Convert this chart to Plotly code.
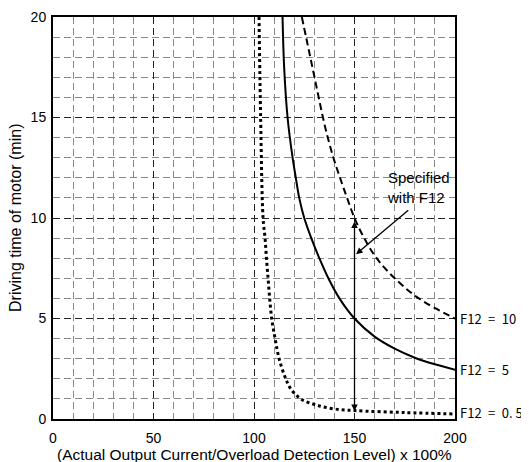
import plotly.graph_objects as go

# curve readings (x = % of overload level, y = minutes)
x_f05 = [102.5, 103.3, 104.5, 105.5, 106.2, 107, 107.8, 108.8, 110.5, 112.5, 115.8, 118.3, 123.3, 130.8, 140, 150, 175, 200]
y_f05 = [20, 15, 10, 9, 8, 7, 6, 5, 4, 3, 2, 1.5, 1, 0.7, 0.5, 0.42, 0.32, 0.25]

x_f5 = [114.2, 115, 116.7, 119.2, 120.8, 122.5, 125, 128.5, 132.5, 137, 142.5, 150, 160, 170, 180, 190, 200]
y_f5 = [20, 17.5, 15, 13, 12, 11, 10, 9, 8, 7, 6, 5, 4.1, 3.5, 3.05, 2.72, 2.45]

x_f10 = [123.8, 125.9, 128, 130.1, 132.2, 134.3, 136.7, 139.5, 142.8, 146.3, 150, 154.8, 161, 170, 182, 200]
y_f10 = [20, 19, 18, 17, 16, 15, 14, 13, 12, 11, 10, 9, 8, 7, 6, 5]

labels = ["F12\u2002=\u200210", "F12\u2002=\u20025", "F12\u2002=\u20020. 5"]
label_y = [5, 2.45, 0.3]

fig = go.Figure()
fig.add_trace(go.Scatter(x=x_f05, y=y_f05, mode='lines', line_shape='spline',
                         line=dict(color='black', width=3, dash='dot')))
fig.add_trace(go.Scatter(x=x_f5, y=y_f5, mode='lines', line_shape='spline',
                         line=dict(color='black', width=2)))
fig.add_trace(go.Scatter(x=x_f10, y=y_f10, mode='lines', line_shape='spline',
                         line=dict(color='black', width=2, dash='7px,4px')))

# double headed arrow at 150%
fig.add_annotation(x=150, y=0.4, ax=150, ay=9.9, xref='x', yref='y', axref='x', ayref='y',
                   text='', showarrow=True, arrowhead=2, startarrowhead=2,
                   arrowside='end+start', arrowwidth=1.3, arrowcolor='black')
# pointer from the note
fig.add_annotation(x=150.8, y=8.2, ax=177.5, ay=10.45, xref='x', yref='y', axref='x', ayref='y',
                   text='', showarrow=True, arrowhead=2, arrowwidth=1.3, arrowcolor='black')
fig.add_annotation(x=165, y=11.5, xref='x', yref='y', text='Specified<br>with F12',
                   showarrow=False, align='left', xanchor='left',
                   font=dict(family='Liberation Sans', size=15, color='black'))

for t, yy in zip(labels, label_y):
    fig.add_annotation(x=200, y=yy, xref='x', yref='y', text=t, showarrow=False,
                       xanchor='left', xshift=3,
                       font=dict(family='Noto Sans CJK JP', size=13, color='black'))

# axis titles
fig.add_annotation(x=0.5, y=0, xref='paper', yref='paper', yanchor='middle', yshift=-35,
                   text='(Actual Output Current/Overload Detection Level) x 100%', showarrow=False,
                   font=dict(family='Liberation Sans', size=15.5, color='black'))
fig.add_annotation(x=0, y=0.5, xref='paper', yref='paper', xanchor='center', xshift=-38,
                   textangle=-90, text='Driving time of motor (min)', showarrow=False,
                   font=dict(family='Liberation Sans', size=16, color='black'))

# page body has an 8px margin, so the figure is shrunk by that much
fig.update_layout(
    width=521, height=454,
    margin=dict(l=45, r=74, t=9, b=43),
    plot_bgcolor='white', paper_bgcolor='white',
    showlegend=False,
    font=dict(family='Liberation Sans', size=14, color='black'),
)
fig.update_xaxes(range=[0, 200], tickvals=[0, 50, 100, 150, 200], ticks='', automargin=False,
                 ticklabelstandoff=5,
                 showline=True, linecolor='black', linewidth=2, mirror=True,
                 showgrid=True, gridcolor='#222', griddash='7px,4px', gridwidth=1,
                 minor=dict(dtick=10, showgrid=True, gridcolor='#888', griddash='7px,4px', gridwidth=1),
                 zeroline=False, tickfont=dict(size=14))
fig.update_yaxes(range=[0, 20], tickvals=[0, 5, 10, 15, 20], ticks='', automargin=False,
                 ticklabelstandoff=2,
                 showline=True, linecolor='black', linewidth=2, mirror=True,
                 showgrid=True, gridcolor='#222', griddash='7px,4px', gridwidth=1,
                 minor=dict(dtick=1, showgrid=True, gridcolor='#888', griddash='7px,4px', gridwidth=1),
                 zeroline=False, tickfont=dict(size=14))

fig.write_html("out.html")
